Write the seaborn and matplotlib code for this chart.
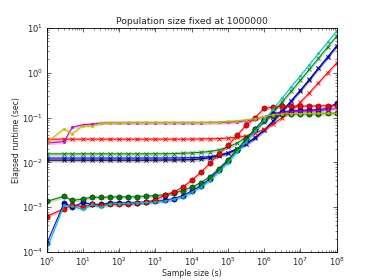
import numpy as np
import pandas as pd
import seaborn as sns
import matplotlib
matplotlib.use("Agg")
import matplotlib.pyplot as plt

# sample sizes (quarter decades after 10)
sizes = [1, 3, 5, 10, 18, 32, 56, 100, 178, 316, 562,
         1e3, 1.78e3, 3.16e3, 5.62e3, 1e4, 1.78e4, 3.16e4, 5.62e4,
         1e5, 1.78e5, 3.16e5, 5.62e5, 1e6, 1.78e6, 3.16e6, 5.62e6,
         1e7, 1.78e7, 3.16e7, 5.62e7, 1e8]

# runtimes in seconds
k_x = [0.0112, 0.0112, 0.0112, 0.0112, 0.0112, 0.0112, 0.0112, 0.0112,
       0.0112, 0.0112, 0.0112, 0.0112, 0.0113, 0.0113, 0.0114, 0.0115,
       0.012, 0.0127, 0.014, 0.016, 0.0195, 0.0255, 0.035, 0.052,
       0.083, 0.137, 0.235, 0.40, 0.70, 1.25, 2.2, 3.9]
b_x = [0.0125, 0.0125, 0.0125, 0.0125, 0.0125, 0.0125, 0.0125, 0.0125,
       0.0125, 0.0125, 0.0125, 0.0125, 0.0125, 0.0126, 0.0126, 0.0127,
       0.013, 0.0135, 0.0145, 0.0165, 0.020, 0.026, 0.036, 0.053,
       0.085, 0.14, 0.24, 0.41, 0.72, 1.28, 2.25, 4.0]
g_x = [0.0155, 0.0155, 0.0155, 0.0155, 0.0155, 0.0155, 0.0155, 0.0155,
       0.0155, 0.0155, 0.0155, 0.0156, 0.0156, 0.0157, 0.016, 0.0163,
       0.0168, 0.0175, 0.019, 0.022, 0.027, 0.036, 0.052, 0.080,
       0.13, 0.225, 0.39, 0.68, 1.2, 2.1, 3.75, 6.6]
r_x = [0.033, 0.033, 0.033, 0.033, 0.033, 0.033, 0.033, 0.033,
       0.033, 0.033, 0.033, 0.033, 0.033, 0.033, 0.033, 0.0332,
       0.0334, 0.0336, 0.034, 0.035, 0.036, 0.039, 0.045, 0.055,
       0.072, 0.10, 0.14, 0.22, 0.36, 0.60, 1.0, 1.65]
b_o = [1.55e-4, 1.26e-3, 1.0e-3, 1.28e-3, 1.15e-3, 1.15e-3, 1.25e-3, 1.25e-3,
       1.25e-3, 1.27e-3, 1.3e-3, 1.35e-3, 1.42e-3, 1.55e-3, 1.8e-3, 2.3e-3,
       3.0e-3, 4.3e-3, 6.8e-3, 0.011, 0.019, 0.033, 0.056, 0.09,
       0.12, 0.135, 0.14, 0.145, 0.148, 0.15, 0.16, 0.21]
g_o = [1.35e-3, 1.75e-3, 1.42e-3, 1.52e-3, 1.68e-3, 1.65e-3, 1.7e-3, 1.7e-3,
       1.7e-3, 1.72e-3, 1.78e-3, 1.8e-3, 1.9e-3, 2.05e-3, 2.35e-3, 2.8e-3,
       3.5e-3, 4.8e-3, 7.3e-3, 0.0115, 0.019, 0.033, 0.056, 0.09,
       0.11, 0.118, 0.12, 0.122, 0.122, 0.123, 0.124, 0.125]
r_o = [6.2e-4, 9.3e-4, 1.12e-3, 1.02e-3, 1.15e-3, 1.1e-3, 1.15e-3, 1.15e-3,
       1.18e-3, 1.22e-3, 1.3e-3, 1.45e-3, 1.85e-3, 2.15e-3, 2.8e-3, 4.0e-3,
       6.0e-3, 9.5e-3, 0.0155, 0.024, 0.040, 0.068, 0.10, 0.16,
       0.172, 0.178, 0.18, 0.18, 0.182, 0.182, 0.185, 0.19]
c_dot = [1.15e-4, 1.1e-3, 1.05e-3, 8.9e-4, 1.15e-3, 1.0e-3, 1.2e-3, 1.2e-3,
         1.22e-3, 1.25e-3, 1.28e-3, 1.3e-3, 1.38e-3, 1.5e-3, 1.72e-3, 2.15e-3,
         2.8e-3, 3.9e-3, 6.0e-3, 9.8e-3, 0.017, 0.028, 0.05, 0.087,
         0.155, 0.275, 0.49, 0.86, 1.53, 2.72, 4.8, 8.6]
m_dot = [0.027, 0.029, 0.061, 0.069, 0.072, 0.076, 0.077, 0.077,
         0.077, 0.077, 0.077, 0.077, 0.077, 0.077, 0.077, 0.077,
         0.077, 0.078, 0.078, 0.079, 0.081, 0.085, 0.092, 0.105,
         0.12, 0.13, 0.135, 0.14, 0.14, 0.145, 0.15, 0.16]
y_dot = [0.028, 0.056, 0.044, 0.066, 0.064, 0.076, 0.077, 0.077,
         0.078, 0.078, 0.078, 0.078, 0.078, 0.078, 0.078, 0.078,
         0.078, 0.078, 0.079, 0.082, 0.085, 0.089, 0.095, 0.105,
         0.115, 0.12, 0.122, 0.123, 0.124, 0.124, 0.125, 0.125]

series = [
    (k_x, (0, 0, 0), "x"),
    (b_x, (0, 0, 1), "x"),
    (g_x, (0, 0.5, 0), "x"),
    (r_x, (1, 0, 0), "x"),
    (b_o, (0, 0, 1), "o"),
    (g_o, (0, 0.5, 0), "o"),
    (r_o, (1, 0, 0), "o"),
    (c_dot, (0, 0.75, 0.75), "."),
    (m_dot, (0.75, 0, 0.75), "."),
    (y_dot, (0.75, 0.75, 0), "."),
]

sns.set_style("ticks", {"xtick.direction": "in", "ytick.direction": "in",
                        "xtick.top": True, "ytick.right": True,
                        "axes.edgecolor": "black"})
plt.rcParams['font.family'] = ['DejaVu Sans']
plt.rcParams['font.size'] = 5.6
plt.rcParams['mathtext.default'] = 'regular'

fig = plt.figure(figsize=(3.74, 2.8), dpi=100)
ax = fig.add_axes([0.125, 0.1, 0.775, 0.8])

for vals, col, mk in series:
    v = np.array(vals)
    ax.fill_between(sizes, v * 0.91, v * 1.1, color=col, alpha=0.25, lw=0)
    if mk == "o":
        kw = dict(markersize=3.8, markeredgecolor="black", markeredgewidth=0.3)
    elif mk == "x":
        kw = dict(markersize=3.2, markeredgecolor=col, markeredgewidth=0.6)
    else:
        kw = dict(markersize=3.4, markeredgecolor=col, markeredgewidth=0.3)
    sns.lineplot(x=sizes, y=vals, color=col, marker=mk, lw=0.7, ax=ax, **kw)

ax.set_xscale("log")
ax.set_yscale("log")
ax.set_xlim(1, 1e8)
ax.set_ylim(1e-4, 10)
ax.xaxis.set_major_locator(matplotlib.ticker.LogLocator(base=10, numticks=12))
ax.tick_params(which="major", length=3, width=0.5, labelsize=6, pad=2.5)
ax.tick_params(which="minor", length=1.5, width=0.4)
for s in ax.spines.values():
    s.set_linewidth(0.6)
ax.set_title("Population size fixed at 1000000", fontsize=6.7, pad=3)
ax.set_xlabel("Sample size (s)", fontsize=5.6, labelpad=1)
ax.set_ylabel("Elapsed runtime (sec)", fontsize=5.6, labelpad=1)

fig.savefig("out.png", dpi=100)
